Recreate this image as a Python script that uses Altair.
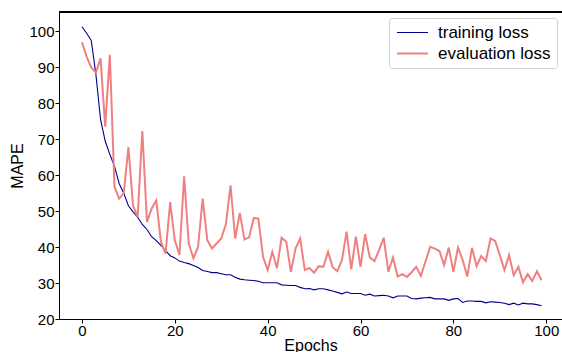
import altair as alt
import pandas as pd

epochs = list(range(100))

training_loss = [
    101.3, 99.5, 97.5, 88.0, 75.5, 69.5, 65.8, 62.5, 57.7, 55.0,
    51.5, 49.8, 48.3, 46.3, 44.9, 42.9, 41.8, 40.5, 39.0, 37.6,
    37.0, 36.1, 35.7, 35.4, 34.9, 34.3, 33.5, 33.2, 32.9, 32.9,
    32.6, 32.3, 32.3, 31.6, 31.1, 30.9, 30.8, 30.7, 30.5, 30.1,
    30.1, 30.1, 30.1, 29.5, 29.4, 29.3, 29.3, 28.8, 28.4, 28.5,
    28.1, 28.4, 28.4, 28.1, 27.8, 27.4, 27.0, 27.5, 27.1, 27.1,
    27.1, 26.6, 26.9, 26.4, 26.5, 26.6, 26.4, 25.9, 26.4, 26.4,
    26.4, 25.7, 25.6, 25.8, 25.9, 26.0, 25.6, 25.6, 25.6, 25.2,
    25.6, 25.7, 24.6, 25.0, 25.0, 24.9, 24.9, 24.5, 24.8, 24.7,
    24.6, 24.4, 24.0, 24.4, 23.9, 24.4, 24.2, 24.2, 24.0, 23.7,
]

evaluation_loss = [
    97.0, 93.0, 90.0, 88.5, 92.5, 73.5, 93.5, 56.8, 53.5, 55.0,
    67.8, 51.5, 48.5, 72.3, 47.0, 50.7, 53.0, 41.5, 38.2, 52.5,
    41.9, 37.8, 59.7, 41.0, 36.9, 40.1, 53.5, 41.9, 39.6, 41.0,
    42.4, 46.4, 57.2, 42.4, 49.5, 42.1, 42.7, 48.1, 47.9, 37.3,
    33.6, 38.7, 34.1, 42.6, 41.5, 33.1, 39.6, 42.4, 33.6, 34.2,
    32.9, 34.7, 34.5, 38.7, 34.4, 33.3, 36.4, 44.3, 33.8, 42.9,
    34.5, 43.6, 37.1, 36.1, 39.2, 42.6, 33.1, 37.1, 31.8, 32.5,
    31.7, 33.0, 34.5, 32.0, 36.0, 40.1, 39.6, 38.9, 35.0, 39.9,
    33.1, 39.9, 36.4, 31.8, 39.8, 34.7, 37.5, 36.1, 42.4, 41.7,
    37.8, 33.6, 37.8, 32.2, 34.5, 30.2, 32.5, 30.6, 33.3, 30.8,
]

series_names = ["training loss", "evaluation loss"]
series_colors = ["#00008B", "#F08080"]
x_ticks = [0, 20, 40, 60, 80, 100]
y_ticks = [20, 30, 40, 50, 60, 70, 80, 90, 100]

df = pd.DataFrame({
    "epoch": epochs * 2,
    "value": training_loss + evaluation_loss,
    "series": [series_names[0]] * len(epochs) + [series_names[1]] * len(epochs),
})

W, H = 503, 307

x_enc = alt.X("epoch:Q",
              scale=alt.Scale(domain=[-4.95, 103.4], nice=False, zero=False),
              axis=alt.Axis(values=x_ticks, title="Epochs", grid=False,
                            titleBaseline="alphabetic", titleY=31, labelPadding=0))
y_enc = alt.Y("value:Q",
              scale=alt.Scale(domain=[20, 105.4], nice=False, zero=False),
              axis=alt.Axis(values=y_ticks, title="MAPE", grid=False, labelPadding=1))
color_enc = alt.Color("series:N",
                      scale=alt.Scale(domain=series_names, range=series_colors),
                      legend=alt.Legend(
                          title=None, orient="none", legendX=330, legendY=6,
                          symbolType="M-3,0H3", symbolSize=107, symbolStrokeWidth=1.6,
                          symbolFillColor="transparent", symbolOffset=9,
                          labelFontSize=17, labelFont="Liberation Sans", labelColor="black",
                          labelOffset=17, padding=6, rowPadding=3,
                          strokeColor="#d0d0d0", cornerRadius=3, fillColor="white",
                      ))
sw_enc = alt.StrokeWidth("series:N",
                         scale=alt.Scale(domain=series_names, range=[1.1, 2.0]),
                         legend=None)

train = alt.Chart(df).transform_filter(
    alt.datum.series == series_names[0]
).mark_line(clip=True).encode(x=x_enc, y=y_enc, color=color_enc, strokeWidth=sw_enc)

eval_ = alt.Chart(df).transform_filter(
    alt.datum.series == series_names[1]
).mark_line(clip=True).encode(x=x_enc, y=y_enc, color=color_enc, strokeWidth=sw_enc)

top = alt.Chart(df).mark_rule(color="black", strokeWidth=1).encode(
    x=alt.value(0), x2=alt.value(W + 5), y=alt.value(0)
)

chart = alt.layer(train, eval_, top).properties(
    width=W, height=H,
    autosize=alt.AutoSizeParams(type="none"),
    padding={"left": 59, "top": 12, "right": 0, "bottom": 33},
).configure_view(strokeWidth=0).configure_axis(
    domainColor="black", domainWidth=1, tickColor="black", tickSize=4, tickWidth=1,
    labelColor="black", labelFont="Liberation Sans", labelFontSize=15,
    titleColor="black", titleFont="Liberation Sans", titleFontSize=16, titleFontWeight="normal",
).configure_axisY(titlePadding=3)

chart.save("out.html", embed_options={"renderer": "svg", "actions": False})
